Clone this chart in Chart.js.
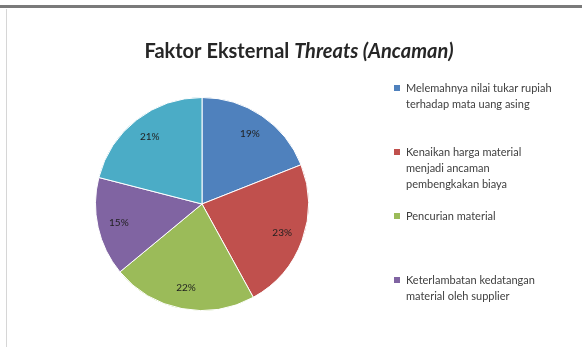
<!DOCTYPE html>
<html><head><meta charset="utf-8">
<script src="https://cdn.jsdelivr.net/npm/chart.js@4"></script>
<style>
html,body{margin:0;padding:0;background:#fff;overflow:hidden}
#wrap{position:relative;width:582px;height:347px}
#topbar{position:absolute;left:0;top:5px;width:582px;height:3px;background:#7a7a7a}
#leftbar{position:absolute;left:6px;top:9px;width:1px;height:338px;background:#d6d6d6}
canvas{position:absolute;left:0;top:0}
</style></head>
<body><div id="wrap"><canvas id="c" width="582" height="347"></canvas><div id="topbar"></div><div id="leftbar"></div></div>
<script>
const categories = [
  ["Melemahnya nilai tukar rupiah", "terhadap mata uang asing"],
  ["Kenaikan harga material", "menjadi ancaman", "pembengkakan biaya"],
  ["Pencurian material"],
  ["Keterlambatan kedatangan", "material oleh supplier"],
  ["Lainnya"]
];
const values = [19, 23, 22, 15, 21];
const pctLabels = ["19%", "23%", "22%", "15%", "21%"];
const colors = ["#4F81BD", "#C0504D", "#9BBB59", "#8064A2", "#4BACC6"];
const legendCount = 4;
const titleParts = ["Faktor Eksternal ", "Threats (Ancaman)"];

const overlay = {
  id: 'overlay',
  afterDraw(chart) {
    const ctx = chart.ctx;
    ctx.save();
    // title
    ctx.fillStyle = '#262626';
    ctx.textBaseline = 'alphabetic';
    ctx.textAlign = 'left';
    ctx.font = 'bold 20px Lato';
    const w1 = ctx.measureText(titleParts[0]).width;
    ctx.font = 'italic bold 20px Lato';
    const w2 = ctx.measureText(titleParts[1]).width;
    let x = 299 - (w1 + w2) / 2;
    ctx.font = 'bold 20px Lato';
    ctx.fillText(titleParts[0], x, 58);
    ctx.font = 'italic bold 20px Lato';
    ctx.fillText(titleParts[1], x + w1, 58);

    // legend
    ctx.font = '11px Lato';
    ctx.textBaseline = 'middle';
    for (let i = 0; i < legendCount; i++) {
      const y0 = 88 + i * 64;
      ctx.fillStyle = colors[i];
      ctx.fillRect(394, y0 - 3, 6, 6);
      ctx.fillStyle = '#404040';
      categories[i].forEach((line, j) => ctx.fillText(line, 406, y0 + j * 16));
    }

    // percentage labels
    const meta = chart.getDatasetMeta(0);
    ctx.font = '10px Lato';
    ctx.fillStyle = '#1f1f1f';
    ctx.textAlign = 'center';
    meta.data.forEach((arc, i) => {
      const p = arc.getProps(['x', 'y', 'startAngle', 'endAngle', 'outerRadius'], true);
      const a = (p.startAngle + p.endAngle) / 2;
      const r = p.outerRadius * 0.8;
      ctx.fillText(pctLabels[i], p.x + Math.cos(a) * r, p.y + Math.sin(a) * r);
    });
    ctx.restore();
  }
};

new Chart(document.getElementById('c'), {
  type: 'pie',
  data: {
    labels: categories,
    datasets: [{
      data: values,
      backgroundColor: colors,
      borderColor: '#ffffff',
      borderWidth: 1
    }]
  },
  options: {
    responsive: false,
    animation: false,
    layout: { padding: { left: 95, right: 273, top: 97, bottom: 36 } },
    plugins: { legend: { display: false }, tooltip: { enabled: false }, title: { display: false } }
  },
  plugins: [overlay]
});
</script>
</body></html>
